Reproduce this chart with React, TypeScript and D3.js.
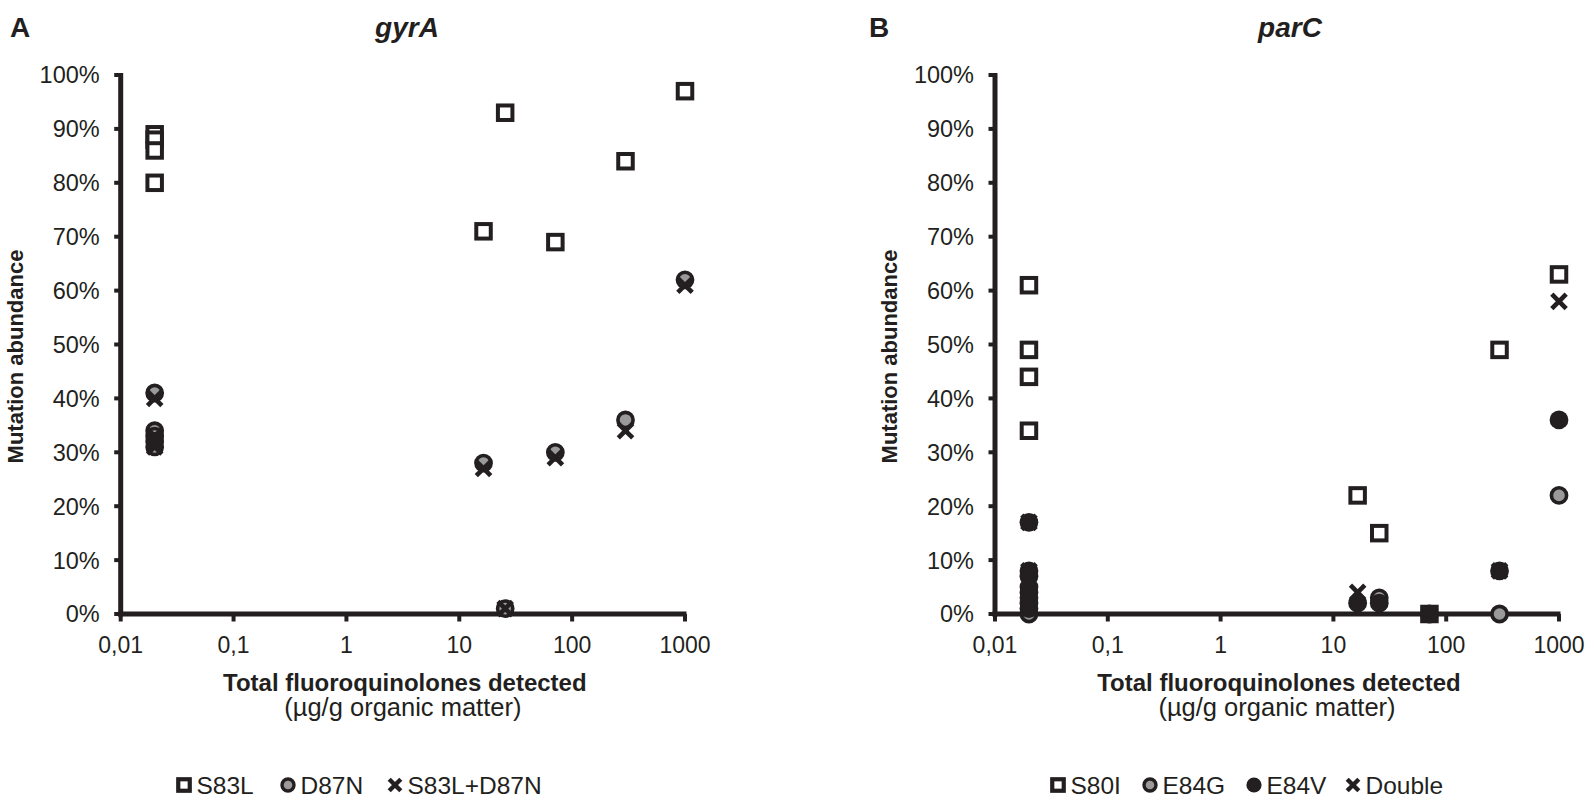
import React from "react";
import * as d3 from "d3";

const W = 1591;
const H = 798;
const FONT = "'Liberation Sans', Arial, Helvetica, sans-serif";
const INK = "#231f20";
const GRAY = "#9a9a9a";

// Axis ticks
const xTickValues = [0.01, 0.1, 1, 10, 100, 1000];
const xTickLabels = ["0,01", "0,1", "1", "10", "100", "1000"];
const yTickValues = [0, 10, 20, 30, 40, 50, 60, 70, 80, 90, 100];
const yTickLabels = ["0%", "10%", "20%", "30%", "40%", "50%", "60%", "70%", "80%", "90%", "100%"];

// Panel A: gyrA (x = total fluoroquinolones, y = mutation abundance %)
const gyrA_S83L_x = [0.02, 0.02, 0.02, 0.02, 16.4, 25.5, 71, 297, 1000];
const gyrA_S83L_y = [89, 88, 86, 80, 71, 93, 69, 84, 97];
const gyrA_D87N_x = [0.02, 0.02, 0.02, 0.02, 0.02, 16.4, 25.5, 71, 297, 1000];
const gyrA_D87N_y = [41, 34, 33, 32, 31, 28, 1, 30, 36, 62];
const gyrA_Both_x = [0.02, 0.02, 0.02, 0.02, 16.4, 25.5, 71, 297, 1000];
const gyrA_Both_y = [40, 33, 32, 31, 27, 1, 29, 34, 61];

// Panel B: parC
const parC_S80I_x = [0.02, 0.02, 0.02, 0.02, 16.4, 25.5, 71, 297, 1000];
const parC_S80I_y = [61, 49, 44, 34, 22, 15, 0, 49, 63];
const parC_E84G_x = [0.02, 25.5, 297, 1000];
const parC_E84G_y = [0, 3, 0, 22];
const parC_E84V_x = [0.02, 0.02, 0.02, 0.02, 0.02, 0.02, 0.02, 0.02, 16.4, 25.5, 71, 297, 1000];
const parC_E84V_y = [17, 8, 7, 5, 4, 3, 2, 1, 2, 2, 0, 8, 36];
const parC_Double_x = [0.02, 0.02, 0.02, 0.02, 16.4, 71, 297, 1000];
const parC_Double_y = [17, 8, 6, 3, 4, 0, 8, 58];

type Kind = "square" | "gray" | "black" | "cross";

function zip(xs: number[], ys: number[]) {
  return xs.map((x, i) => ({ x, y: ys[i] }));
}

function Marker({ kind, cx, cy, legend }: { kind: Kind; cx: number; cy: number; legend?: boolean }) {
  if (kind === "square") {
    const s = legend ? 11.5 : 14.5;
    return <rect x={cx - s / 2} y={cy - s / 2} width={s} height={s} fill="#fff" stroke={INK} strokeWidth={legend ? 4.2 : 4} />;
  }
  if (kind === "gray") {
    return <circle cx={cx} cy={cy} r={legend ? 6 : 7.6} fill={GRAY} stroke={INK} strokeWidth={legend ? 3.4 : 3.6} />;
  }
  if (kind === "black") {
    return <circle cx={cx} cy={cy} r={legend ? 7.6 : 9.4} fill={INK} />;
  }
  const a = legend ? 5.8 : 7.2;
  return (
    <g stroke={INK} strokeWidth={legend ? 4.4 : 4.6}>
      <line x1={cx - a} y1={cy - a} x2={cx + a} y2={cy + a} />
      <line x1={cx - a} y1={cy + a} x2={cx + a} y2={cy - a} />
    </g>
  );
}

type Series = { kind: Kind; pts: { x: number; y: number }[] };

function Panel({
  left, right, top, bottom, letter, letterX, title, titleX, series, legend,
}: {
  left: number; right: number; top: number; bottom: number;
  letter: string; letterX: number; title: string; titleX: number;
  series: Series[];
  legend: { kind: Kind; label: string; mx: number }[];
}) {
  const x = d3.scaleLog().domain([0.01, 1000]).range([left, right]);
  const y = d3.scaleLinear().domain([0, 100]).range([bottom, top]);
  const mid = (left + right) / 2;
  return (
    <g fontFamily={FONT} fill={INK}>
      <text x={letterX} y={37} fontSize={28} fontWeight="bold">{letter}</text>
      <text x={titleX} y={37} fontSize={28} fontWeight="bold" fontStyle="italic" textAnchor="middle">{title}</text>

      {/* y axis */}
      <line x1={left} y1={top - 2} x2={left} y2={bottom + 2.5} stroke={INK} strokeWidth={5} />
      {yTickValues.map((v) => (
        <line key={"yt" + v} x1={left - 6.5} x2={left} y1={y(v)} y2={y(v)} stroke={INK} strokeWidth={4} />
      ))}
      {yTickValues.map((v, i) => (
        <text key={"yl" + v} x={left - 21} y={y(v)} dy="0.36em" fontSize={23.5} textAnchor="end">{yTickLabels[i]}</text>
      ))}
      <text transform={`translate(${left - 106},${(top + bottom) / 2 + 12}) rotate(-90)`} fontSize={22} fontWeight="bold" textAnchor="middle" dy="0.36em">
        Mutation abundance
      </text>

      {/* x axis */}
      <line x1={left - 2.5} y1={bottom} x2={right + 1.5} y2={bottom} stroke={INK} strokeWidth={5} />
      {xTickValues.map((v) => (
        <line key={"xt" + v} x1={x(v)} x2={x(v)} y1={bottom} y2={bottom + 7.5} stroke={INK} strokeWidth={4} />
      ))}
      {xTickValues.map((v, i) => (
        <text key={"xl" + v} x={x(v)} y={bottom + 39} fontSize={23} textAnchor="middle">{xTickLabels[i]}</text>
      ))}
      <text x={mid + 2} y={bottom + 77} fontSize={24} fontWeight="bold" textAnchor="middle">Total fluoroquinolones detected</text>
      <text x={mid} y={bottom + 102} fontSize={25.5} textAnchor="middle">(µg/g organic matter)</text>

      {/* points */}
      {series.map((s, si) => (
        <g key={"s" + si}>
          {s.pts.map((p, pi) => (
            <Marker key={pi} kind={s.kind} cx={x(p.x)} cy={y(p.y)} />
          ))}
        </g>
      ))}

      {/* legend */}
      {legend.map((l, i) => (
        <g key={"lg" + i}>
          <Marker kind={l.kind} cx={l.mx} cy={785} legend />
          <text x={l.mx + 12.5} y={785} dy="0.36em" fontSize={24.5}>{l.label}</text>
        </g>
      ))}
    </g>
  );
}

export default function App() {
  const seriesA: Series[] = [
    { kind: "square", pts: zip(gyrA_S83L_x, gyrA_S83L_y) },
    { kind: "gray", pts: zip(gyrA_D87N_x, gyrA_D87N_y) },
    { kind: "cross", pts: zip(gyrA_Both_x, gyrA_Both_y) },
  ];
  const seriesB: Series[] = [
    { kind: "square", pts: zip(parC_S80I_x, parC_S80I_y) },
    { kind: "gray", pts: zip(parC_E84G_x, parC_E84G_y) },
    { kind: "black", pts: zip(parC_E84V_x, parC_E84V_y) },
    { kind: "cross", pts: zip(parC_Double_x, parC_Double_y) },
  ];
  return (
    <div style={{ position: "absolute", left: 0, top: 0, width: W, height: H, background: "#fff" }}>
      <svg width={W} height={H} viewBox={`0 0 ${W} ${H}`}>
        <rect width={W} height={H} fill="#fff" />
        <Panel
          left={120.7} right={685} top={75} bottom={614}
          letter="A" letterX={10} title="gyrA" titleX={407}
          series={seriesA}
          legend={[
            { kind: "square", label: "S83L", mx: 184 },
            { kind: "gray", label: "D87N", mx: 288 },
            { kind: "cross", label: "S83L+D87N", mx: 395 },
          ]}
        />
        <Panel
          left={995} right={1559} top={75} bottom={614}
          letter="B" letterX={869} title="parC" titleX={1290}
          series={seriesB}
          legend={[
            { kind: "square", label: "S80I", mx: 1058 },
            { kind: "gray", label: "E84G", mx: 1150 },
            { kind: "black", label: "E84V", mx: 1254 },
            { kind: "cross", label: "Double", mx: 1353 },
          ]}
        />
      </svg>
    </div>
  );
}
